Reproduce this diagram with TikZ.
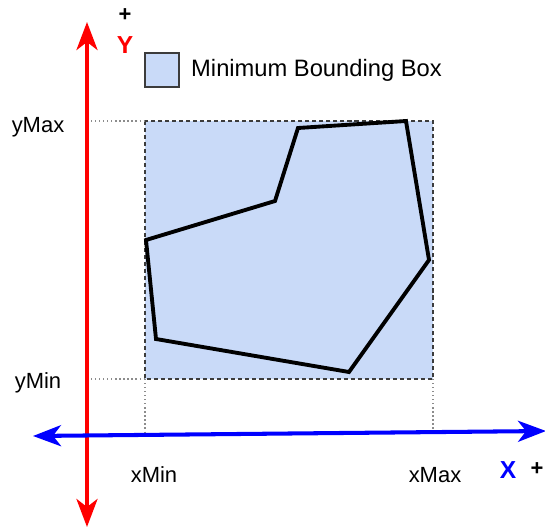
\documentclass[tikz,border=0pt]{standalone}
\usepackage{fontspec}
\setmainfont{Liberation Sans}
\usetikzlibrary{arrows.meta,positioning}
\definecolor{boxBlue}{RGB}{201,218,248}
\definecolor{guideG}{RGB}{140,140,140}
\definecolor{edgeG}{RGB}{60,60,60}

\begin{document}
\begin{tikzpicture}[x=0.02cm,y=-0.02cm,font=\fontsize{12.5}{15}\selectfont]
  \tikzset{axis/.style={{Stealth[length=5.6mm,width=4.2mm,inset=1.6mm]}-{Stealth[length=5.6mm,width=4.2mm,inset=1.6mm]},line width=2.3pt,#1},
    guide/.style={guideG,line width=0.6pt,dash pattern=on 0.7pt off 1.6pt},
    lbl/.style={inner sep=0pt,font=\fontsize{12.5}{15}\selectfont},
    axlbl/.style={inner sep=0pt,font=\fontsize{14}{16}\selectfont\bfseries,text=#1}}
  \useasboundingbox (0,0) rectangle (545,528);
  % bounding box corners
  \coordinate (bbNW) at (145,121);
  \coordinate (bbSE) at (433,379);
  \coordinate (bbSW) at (145,379);
  \coordinate (bbNE) at (433,121);
  \fill[boxBlue] (bbNW) rectangle (bbSE);
  \draw[edgeG,line width=0.9pt,dash pattern=on 2.3pt off 1.7pt] (bbNW) rectangle (bbSE);
  % guides to the axes
  \coordinate (yMaxA) at (87,121);
  \coordinate (yMinA) at (87,379);
  \coordinate (xMinA) at (145,434);
  \coordinate (xMaxA) at (433,433);
  \draw[guide] (yMaxA) -- (bbNW);
  \draw[guide] (yMinA) -- (bbSW);
  \draw[guide] (bbSW) -- (xMinA);
  \draw[guide] (bbSE) -- (xMaxA);
  % the shape
  \draw[line width=2.2pt,line join=miter] (146,240) -- (275,201) -- (298,128) -- (406,121) -- (429,260) -- (349,372) -- (156,339) -- cycle;
  % axes
  \coordinate (yTop) at (87,22);
  \coordinate (yBot) at (87,527);
  \coordinate (xLeft) at (33,436);
  \coordinate (xRight) at (546,431);
  \draw[axis=red] (yBot) -- (yTop);
  \draw[axis=blue] (xLeft) -- (xRight);
  % labels
  \node[lbl] (yPlus) at (125,15) {\bfseries +};
  \node[axlbl=red] (yName) at (125,45) {Y};
  \node[axlbl=blue] (xName) at (508,470) {X};
  \node[lbl] (xPlus) at (537,469) {\bfseries +};
  \node[lbl] (yMaxL) at (38,127) {yMax};
  \node[lbl] (yMinL) at (38,383) {yMin};
  \node[lbl] (xMinL) at (154,475) {xMin};
  \node[lbl] (xMaxL) at (435,475) {xMax};
  % legend
  \node[draw=edgeG,line width=1pt,fill=boxBlue,minimum size=34*0.02cm,inner sep=0pt] (key) at (162,70) {};
  \node[lbl,anchor=west,right=11*0.02cm of key,font=\fontsize{13.5}{15}\selectfont] (keyText) {Minimum Bounding Box};
\end{tikzpicture}
\end{document}
